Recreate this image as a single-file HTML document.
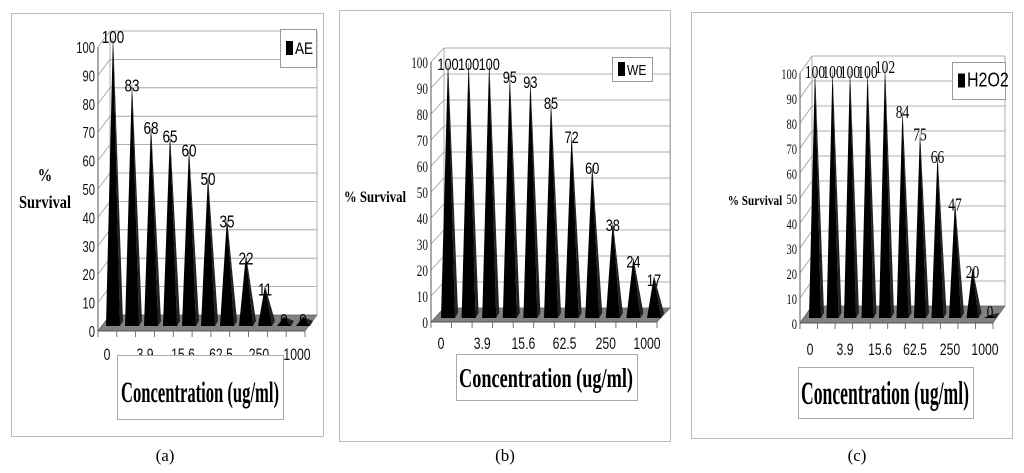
<!DOCTYPE html>
<html><head><meta charset="utf-8"><style>
body{margin:0;background:#fff;}
svg{display:block;}
.sans{font-family:"Liberation Sans",sans-serif;}
.serif{font-family:"Liberation Serif",serif;}
</style></head><body>
<svg id="fig" width="1024" height="473" viewBox="0 0 1024 473" xmlns="http://www.w3.org/2000/svg">
<rect x="0" y="0" width="1024" height="473" fill="#fff"/>
</svg>
<script>
// Data
const categoriesA = ["0","","3.9","","15.6","","62.5","","250","","1000"];
const valuesA = [100,83,68,65,60,50,35,22,11,0,0];
const valuesB = [100,100,100,95,93,85,72,60,38,24,17];
const valuesC = [100,100,100,100,102,84,75,66,47,20,0];
const yTicks = [0,10,20,30,40,50,60,70,80,90,100];

const svg = document.getElementById('fig');
const NS = 'http://www.w3.org/2000/svg';
function mk(tag, attrs, parent){
  const e = document.createElementNS(NS, tag);
  for (const k in attrs) e.setAttribute(k, attrs[k]);
  (parent||svg).appendChild(e);
  return e;
}

const panels = [
 {id:'a', frame:[11,13,312,423], ax:98, y0:331, k:2.84, dx:12, dy:-16, xr:305,
  p0:113, sp:19, peakOff:-14, baseY:326, bw:7, tickOff:-6, tickY:360, vals:valuesA,
  legend:[280,29,36,38,'AE',17], yFont:'sans', yfs:16, vfs:18,
  title:[117,355,166,64,200,402,158,30], yl:[['%',45,181],['Survival',45,208]], ylfs:18,
  cap:['(a)',165,461]},
 {id:'b', frame:[339,10,331,431], ax:431, y0:322, k:2.6, dx:13, dy:-14, xr:657,
  p0:448, sp:20.6, peakOff:-2, baseY:318, bw:7, tickOff:-7, tickY:349, vals:valuesB,
  legend:[612,57,40,24,'WE',15], yFont:'serif', yfs:16, vfs:17,
  title:[456,354,181,46,546,387,174,27], yl:[['% Survival',375,202]], ylfs:16,
  cap:['(b)',505,461]},
 {id:'c', frame:[691,12,321,426], ax:800, y0:323, k:2.5, dx:12, dy:-17, xr:993,
  p0:815, sp:17.5, peakOff:-5, baseY:318, bw:6, tickOff:-5, tickY:355, vals:valuesC,
  legend:[952,62,53,37,'H2O2',20], yFont:'serif', yfs:15, vfs:18,
  title:[798,367,175,51,885,404,168,33], yl:[['% Survival',755,205]], ylfs:14,
  cap:['(c)',857,461]}
];

panels.forEach(P=>{
  const g = mk('g',{});
  
  
  const f = P.frame;
  const fr = mk('rect',{x:f[0]+.5,y:f[1]+.5,width:f[2],height:f[3],fill:'#fff',stroke:'#bbb','stroke-width':1},g);
   
  const yS = v => P.y0 - v*P.k;
  const bx = P.ax + P.dx, xrB = P.xr + P.dx;
  yTicks.forEach(t=>{
    const y = yS(t)+P.dy;
    const gl = mk('line',{x1:bx,y1:y,x2:xrB,y2:y,stroke:'#999','stroke-width':0.8},g);
     
    const dl = mk('line',{x1:P.ax,y1:yS(t),x2:bx,y2:y,stroke:'#999','stroke-width':0.8},g);
     
  });
  mk('line',{x1:bx,y1:yS(100)+P.dy,x2:bx,y2:P.y0+P.dy,stroke:'#999','stroke-width':0.8},g);
  mk('line',{x1:xrB,y1:yS(100)+P.dy,x2:xrB,y2:P.y0+P.dy,stroke:'#999','stroke-width':0.8},g);
  const ya = mk('line',{x1:P.ax,y1:yS(100),x2:P.ax,y2:P.y0,stroke:'#555','stroke-width':1},g);
   
  yTicks.forEach(t=>{
    const tl = mk('text',{x:P.ax-3,y:yS(t)+6,'text-anchor':'end','font-size':P.yfs,class:P.yFont,fill:'#111',transform:`translate(${P.ax-3},0) scale(0.7,1) translate(${-(P.ax-3)},0)`},g);
    tl.textContent = t;
     
  });
  const fl = mk('polygon',{points:`${P.ax},${P.y0} ${P.xr},${P.y0} ${xrB},${P.y0+P.dy} ${bx},${P.y0+P.dy}`,fill:'#808080',stroke:'#555','stroke-width':0.6},g);
   
  mk('line',{x1:P.ax,y1:P.y0,x2:P.xr,y2:P.y0,stroke:'#555','stroke-width':1},g);
  for(let i=0;i<=P.vals.length;i++){
    const x = P.ax + (P.xr-P.ax)*i/P.vals.length;
    mk('line',{x1:x,y1:P.y0,x2:x,y2:P.y0+6,stroke:'#555','stroke-width':0.8},g);
  }
  P.vals.forEach((v,i)=>{
    const cx = P.p0 + i*P.sp;
    const yp = Math.min(yS(v)+P.peakOff, P.baseY-3);
    const side = mk('polygon',{points:`${cx+P.bw},${P.baseY} ${cx},${yp} ${cx+P.bw+3},${P.baseY-5}`,fill:'#222'},g);
     
    const b = mk('polygon',{points:`${cx-P.bw},${P.baseY} ${cx},${yp} ${cx+P.bw},${P.baseY}`,fill:'#000'},g);
     
    const ly = v===0 ? P.baseY : yp+10;
    const vl = mk('text',{x:cx,y:ly,'text-anchor':'middle','font-size':P.vfs,class:P.id==='c'?'serif':'sans',fill:'#000',transform:`translate(${cx},0) scale(0.75,1) translate(${-cx},0)`},g);
    vl.textContent = v;
     
  });
  categoriesA.forEach((c,i)=>{
    if(!c) return;
    const x = P.p0 + i*P.sp + P.tickOff;
    const t = mk('text',{x:x,y:P.tickY,'text-anchor':'middle','font-size':17,class:'sans',fill:'#111',transform:`translate(${x},0) scale(0.72,1) translate(${-x},0)`},g);
    t.textContent = c;
     
  });
  const T = P.title;
  const tb = mk('rect',{x:T[0]+.5,y:T[1]+.5,width:T[2],height:T[3],fill:'#fff',stroke:'#aaa','stroke-width':1},g);
   
  const tt = mk('text',{x:T[4],y:T[5],'text-anchor':'middle','font-size':T[7],'font-weight':'bold',class:'serif',fill:'#000',textLength:T[6],lengthAdjust:'spacingAndGlyphs'},g);
  tt.textContent = 'Concentration (ug/ml)';
   
  P.yl.forEach(l=>{
    const t = mk('text',{x:l[1],y:l[2],'text-anchor':'middle','font-size':P.ylfs,'font-weight':'bold',class:'serif',fill:'#000',transform:`translate(${l[1]},0) scale(0.8,1) translate(${-l[1]},0)`},g);
    t.textContent = l[0];
     
  });
  const L = P.legend;
  const lb = mk('rect',{x:L[0]+.5,y:L[1]+.5,width:L[2],height:L[3],fill:'#fff',stroke:'#999','stroke-width':1},g);
   
  const sw = mk('rect',{x:L[0]+6,y:L[1]+L[3]/2-7,width:7,height:14,fill:'#000'},g);
   
  const lt = mk('text',{x:L[0]+15,y:L[1]+L[3]/2+6,'font-size':L[5],class:'sans',fill:'#000',transform:`translate(${L[0]+15},0) scale(0.8,1) translate(${-(L[0]+15)},0)`},g);
  lt.textContent = L[4];
   
  const cp = mk('text',{x:P.cap[1],y:P.cap[2],'text-anchor':'middle','font-size':17,class:'serif',fill:'#000'},g);
  cp.textContent = P.cap[0];
   
});
</script>
</body></html>
